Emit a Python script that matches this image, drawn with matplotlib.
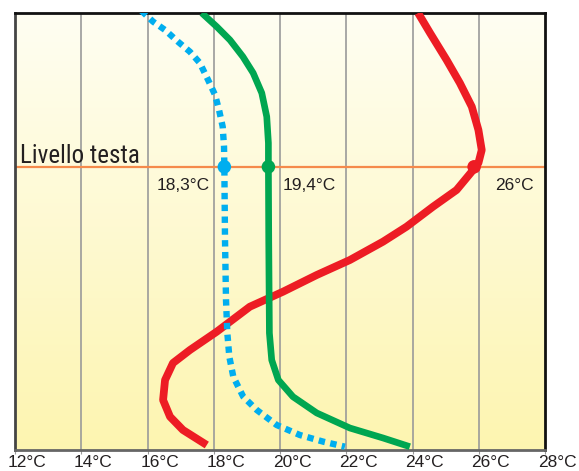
import numpy as np
import matplotlib
matplotlib.use("Agg")
import matplotlib.pyplot as plt
from matplotlib import font_manager
from matplotlib.transforms import ScaledTranslation

# ---- data (temperature °C vs height % of room) ----
red_T = [24.17, 24.53, 25.03, 25.43, 25.79, 25.99, 26.09, 25.99, 25.83, 25.33, 24.62,
         23.82, 23.11, 22.11, 21.11, 20.09, 19.09, 18.09, 17.28, 16.77, 16.53, 16.47,
         16.68, 17.07, 17.79]
red_h = [100.0, 95.42, 89.25, 83.98, 78.56, 73.23, 68.65, 65.67, 64.07, 59.50, 55.68,
         51.10, 47.67, 43.48, 40.05, 36.22, 32.79, 27.07, 22.88, 19.91, 16.02, 11.44,
         7.62, 4.58, 1.14]

green_T = [17.64, 18.09, 18.49, 18.88, 19.19, 19.45, 19.60, 19.65, 19.65, 19.66, 19.68,
           19.75, 19.95, 20.39, 21.11, 22.11, 23.11, 23.92]
green_h = [100.0, 96.87, 93.82, 90.00, 86.27, 81.69, 76.27, 70.25, 64.83, 48.05, 26.77,
           20.59, 16.02, 12.20, 8.47, 5.03, 2.75, 0.76]

blue_T = [15.82, 16.17, 16.53, 16.92, 17.28, 17.58, 17.83, 18.04, 18.16, 18.27, 18.31,
          18.32, 18.34, 18.37, 18.41, 18.47, 18.59, 18.89, 19.30, 19.90, 20.60, 21.31,
          21.96]
blue_h = [100.5, 98.01, 96.11, 93.43, 91.14, 88.56, 84.67, 81.24, 77.80, 73.98, 69.41,
          64.83, 48.05, 34.32, 26.77, 21.35, 16.77, 12.20, 9.15, 5.72, 3.43, 1.90,
          0.76]

head_h = 64.8
head_T = [18.32, 19.65, 25.86]
head_labels = ["18,3°C", "19,4°C", "26°C"]
head_label = "Livello testa"

xticks = [12, 14, 16, 18, 20, 22, 24, 26, 28]
xtick_labels = [f"{t}°C" for t in xticks]

# ---- fonts ----
names = sorted({f.name for f in font_manager.fontManager.ttflist})
narrow = None
for pref in ["Liberation Sans Narrow", "Roboto Condensed", "Open Sans Condensed"]:
    if pref in names:
        narrow = pref
        break
if narrow is None:
    for n in names:
        if "Narrow" in n or "Condensed" in n:
            narrow = n
            break
plt.rcParams["font.family"] = ["Liberation Sans", "DejaVu Sans"]

W, H = 579, 471
fig = plt.figure(figsize=(W / 100, H / 100), dpi=100)
ax = fig.add_axes([15 / W, (H - 450) / H, 530 / W, 437 / H])
ax.set_xlim(12, 28)
ax.set_ylim(0, 100)

# background gradient
grad = np.linspace(0, 1, 256).reshape(-1, 1)
top = np.array([1.0, 0.996, 0.95])
bot = np.array([0.992, 0.96, 0.69])
img = top * (1 - grad[..., None]) + bot * grad[..., None]
img = img.reshape(256, 1, 3)
ax.imshow(img, extent=[12, 28, 0, 100], aspect="auto", origin="upper", zorder=0)

# vertical grid
for t in xticks[1:-1]:
    ax.axvline(t, color="#9a9a9a", lw=1.2, zorder=1)

# head level line
ax.axhline(head_h, color="#F58A4B", lw=1.6, zorder=2)

ax.plot(red_T, red_h, color="#ED1C24", lw=5.6, solid_capstyle="butt",
        solid_joinstyle="round", zorder=4)
ax.plot(green_T, green_h, color="#00A651", lw=4.8, solid_capstyle="butt",
        solid_joinstyle="round", zorder=4)
ax.plot(blue_T, blue_h, color="#00AEEF", lw=4.6, dashes=(1.0, 0.85),
        dash_capstyle="butt", zorder=4)

ax.scatter(head_T, [head_h] * 3, s=95, c=["#00AEEF", "#00A651", "#ED1C24"],
           zorder=5, linewidths=0)

if narrow:
    ax.text(0.0095, 65.7, head_label, fontsize=18, family=[narrow, "DejaVu Sans"],
            color="#231F20", transform=ax.get_yaxis_transform(), va="baseline", ha="left")
else:
    ax.text(0.0095, 65.7, head_label, fontsize=16.5, color="#231F20",
            transform=ax.get_yaxis_transform(), va="baseline", ha="left")
ax.text(17.89, 59.5, head_labels[0], fontsize=12.5, color="#231F20",
        ha="right", va="baseline")
ax.text(20.09, 59.5, head_labels[1], fontsize=12.5, color="#231F20",
        ha="left", va="baseline")
ax.text(26.49, 59.5, head_labels[2], fontsize=12.5, color="#231F20",
        ha="left", va="baseline")

ax.set_xticks(xticks)
ax.set_xticklabels(xtick_labels, fontsize=12.5, color="#231F20")
ax.set_yticks([])
ax.tick_params(axis="x", length=3, color="#9a9a9a", pad=1)
off = ScaledTranslation(12 / 100, 1 / 100, fig.dpi_scale_trans)
for lab in ax.get_xticklabels():
    lab.set_transform(lab.get_transform() + off)

for s in ["top", "right"]:
    ax.spines[s].set_color("#111111")
    ax.spines[s].set_linewidth(2)
ax.spines["left"].set_color("#444444")
ax.spines["left"].set_linewidth(2)
ax.spines["bottom"].set_color("#666666")
ax.spines["bottom"].set_linewidth(2)

fig.savefig("out.png", dpi=100)
